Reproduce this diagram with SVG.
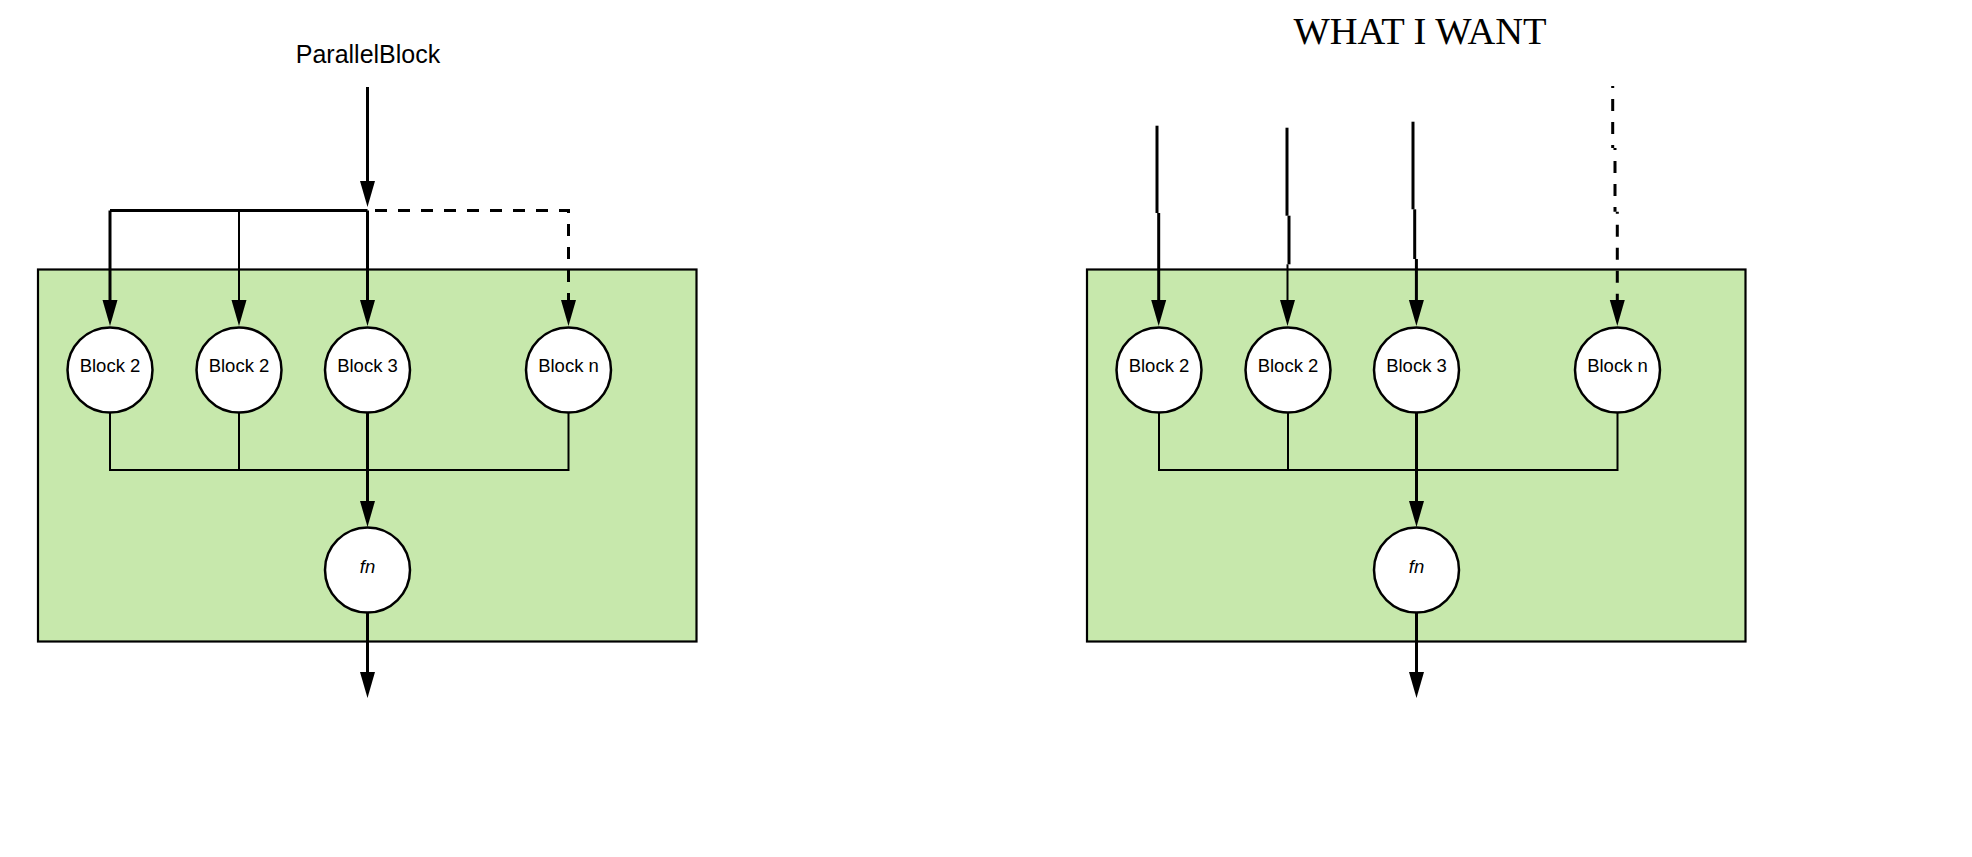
<svg xmlns="http://www.w3.org/2000/svg" width="1972" height="857" viewBox="0 0 1972 857">
<style>
.bg{fill:#ffffff}
.box{fill:#c7e8ac;stroke:#000;stroke-width:2.2}
.node{fill:#fff;stroke:#000;stroke-width:2.5}
.lbl{font-family:"Liberation Sans",Arial,sans-serif;font-size:18.5px;fill:#000;text-anchor:middle}
.fn{font-style:italic}
.title{font-family:"Liberation Sans",Arial,sans-serif;font-size:25px;fill:#000;text-anchor:middle}
.title2{font-family:"Liberation Serif","Times New Roman",serif;font-size:38.5px;fill:#000;text-anchor:middle}
.c{fill:none;stroke:#000;stroke-width:3}
.t{fill:none;stroke:#000;stroke-width:2}
.d{fill:none;stroke:#000;stroke-width:3;stroke-dasharray:12 11}
.a{marker-end:url(#arr)}
</style>
<defs>
<marker id="arr" markerUnits="userSpaceOnUse" viewBox="0 0 26 16" refX="2" refY="8" markerWidth="26" markerHeight="16" orient="auto">
<path d="M0,0.5 L26,8 L0,15.5 Z" fill="#000"/>
</marker>
</defs>
<rect class="bg" x="0" y="0" width="1972" height="857"/>

<text id="title-left" class="title" x="368" y="62.5">ParallelBlock</text>
<text id="title-right" class="title2" x="1420" y="44">WHAT I WANT</text>

<g id="container-left"><rect class="box" x="38" y="269.5" width="658.5" height="372"/></g>
<g id="container-right"><rect class="box" x="1087" y="269.5" width="658.5" height="372"/></g>

<g id="connectors">
<!-- left top -->
<path class="c a" d="M367.5,87 V183"/>
<path class="c" d="M110,210.5 H367.5"/>
<path class="d a" style="stroke-dashoffset:15.5" d="M367.5,210.5 H568.5 V302"/>
<path class="c a" d="M110,210.5 V302"/>
<path class="t a" d="M239,210.5 V302"/>
<path class="c a" d="M367.5,210.5 V302"/>
<!-- left bottom -->
<path class="t" d="M110,413 V470 H568.5 V413"/>
<path class="t" d="M239,413 V470"/>
<path class="c a" d="M367.5,413 V503"/>
<path class="c a" d="M367.5,613 V674"/>
<!-- right top -->
<path class="c" d="M1157,125.7 V213"/>
<path class="c a" d="M1158.7,213 V302"/>
<path class="c" d="M1287,127.7 V215.7"/>
<path class="c" d="M1289,215.7 V264.3"/>
<path class="t a" d="M1287.5,264.3 V302"/>
<path class="c" d="M1413,121.7 V209.3"/>
<path class="c" d="M1414.7,209.3 V259"/>
<path class="c a" d="M1416.4,259 V302"/>
<path class="d" style="stroke-dashoffset:10" d="M1612.7,86 V148"/>
<path class="d" style="stroke-dashoffset:10" d="M1615,148 V211.7"/>
<path class="d a" style="stroke-dashoffset:10" d="M1617.3,211.7 V302"/>
<!-- right bottom -->
<path class="t" d="M1159,413 V470 H1617.5 V413"/>
<path class="t" d="M1288,413 V470"/>
<path class="c a" d="M1416.5,413 V503"/>
<path class="c a" d="M1416.5,613 V674"/>
</g>

<g id="l-block2a"><circle class="node" cx="110" cy="370" r="42.5"/><text class="lbl" x="110" y="371.5">Block 2</text></g>
<g id="l-block2b"><circle class="node" cx="239" cy="370" r="42.5"/><text class="lbl" x="239" y="371.5">Block 2</text></g>
<g id="l-block3"><circle class="node" cx="367.5" cy="370" r="42.5"/><text class="lbl" x="367.5" y="371.5">Block 3</text></g>
<g id="l-blockn"><circle class="node" cx="568.5" cy="370" r="42.5"/><text class="lbl" x="568.5" y="371.5">Block n</text></g>
<g id="l-fn"><circle class="node" cx="367.5" cy="570" r="42.5"/><text class="lbl fn" x="367.5" y="572.5">fn</text></g>

<g id="r-block2a"><circle class="node" cx="1159" cy="370" r="42.5"/><text class="lbl" x="1159" y="371.5">Block 2</text></g>
<g id="r-block2b"><circle class="node" cx="1288" cy="370" r="42.5"/><text class="lbl" x="1288" y="371.5">Block 2</text></g>
<g id="r-block3"><circle class="node" cx="1416.5" cy="370" r="42.5"/><text class="lbl" x="1416.5" y="371.5">Block 3</text></g>
<g id="r-blockn"><circle class="node" cx="1617.5" cy="370" r="42.5"/><text class="lbl" x="1617.5" y="371.5">Block n</text></g>
<g id="r-fn"><circle class="node" cx="1416.5" cy="570" r="42.5"/><text class="lbl fn" x="1416.5" y="572.5">fn</text></g>
</svg>
